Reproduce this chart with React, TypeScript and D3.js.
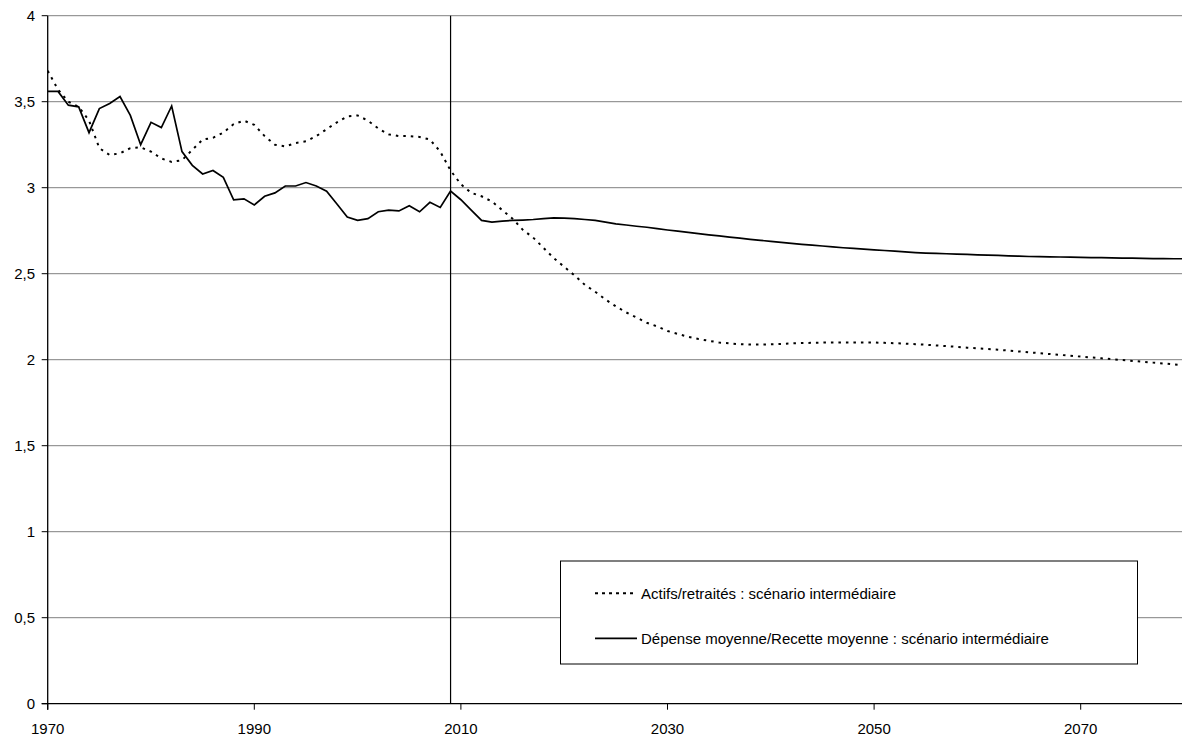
import React from "react";
import * as d3 from "d3";

const years: number[] = d3.range(1970, 2081);

const depenseRecette: number[] = [
  3.56, 3.56, 3.48, 3.47, 3.32, 3.46, 3.49, 3.53, 3.42, 3.25,
  3.38, 3.35, 3.475, 3.21, 3.13, 3.08, 3.10, 3.06, 2.93, 2.935,
  2.90, 2.95, 2.97, 3.01, 3.01, 3.03, 3.01, 2.98, 2.905, 2.83,
  2.81, 2.82, 2.86, 2.87, 2.865, 2.895, 2.86, 2.915, 2.885, 2.98,
  2.93, 2.87, 2.81, 2.80, 2.806, 2.81, 2.812, 2.815, 2.82, 2.825,
  2.823, 2.82, 2.815, 2.81, 2.80, 2.79, 2.783, 2.776, 2.77, 2.762,
  2.754, 2.747, 2.74, 2.733, 2.726, 2.72, 2.713, 2.707, 2.70, 2.694,
  2.688, 2.682, 2.676, 2.671, 2.666, 2.661, 2.656, 2.651, 2.647, 2.643,
  2.639, 2.635, 2.631, 2.627, 2.623, 2.62, 2.618, 2.616, 2.614, 2.612,
  2.61, 2.608, 2.606, 2.604, 2.602, 2.60, 2.599, 2.598, 2.597, 2.596,
  2.595, 2.594, 2.593, 2.592, 2.591, 2.59, 2.589, 2.588, 2.588, 2.587,
  2.587,
];

const actifsRetraites: number[] = [
  3.68, 3.57, 3.50, 3.47, 3.39, 3.23, 3.19, 3.20, 3.23, 3.235,
  3.21, 3.17, 3.15, 3.16, 3.22, 3.28, 3.29, 3.32, 3.37, 3.39,
  3.365, 3.30, 3.25, 3.24, 3.26, 3.27, 3.30, 3.34, 3.38, 3.415,
  3.42, 3.39, 3.345, 3.31, 3.30, 3.30, 3.295, 3.28, 3.21, 3.10,
  3.02, 2.97, 2.95, 2.92, 2.87, 2.82, 2.755, 2.71, 2.65, 2.59,
  2.54, 2.49, 2.435, 2.395, 2.35, 2.31, 2.275, 2.245, 2.215, 2.193,
  2.167, 2.15, 2.133, 2.12, 2.11, 2.10, 2.095, 2.09, 2.088, 2.088,
  2.09, 2.092, 2.095, 2.097, 2.098, 2.10, 2.10, 2.10, 2.10, 2.10,
  2.10, 2.098, 2.096, 2.093, 2.09, 2.087, 2.083, 2.079, 2.075, 2.07,
  2.066, 2.062, 2.058, 2.053, 2.048, 2.043, 2.038, 2.033, 2.028, 2.023,
  2.018, 2.013, 2.008, 2.003, 1.998, 1.993, 1.988, 1.983, 1.978, 1.973,
  1.968,
];

const xTickYears: number[] = [1970, 1990, 2010, 2030, 2050, 2070];
const yTickValues: number[] = [0, 0.5, 1, 1.5, 2, 2.5, 3, 3.5, 4];
const markerYear = 2009;

const legendLabels: string[] = [
  "Actifs/retraités : scénario intermédiaire",
  "Dépense moyenne/Recette moyenne : scénario intermédiaire",
];

const FONT = "'Liberation Sans', Arial, Helvetica, sans-serif";

export default function App() {
  const W = 1182;
  const H = 740;
  const x = d3.scaleLinear().domain([1970, 2080]).range([47.7, 1184]);
  const y = d3.scaleLinear().domain([0, 4]).range([703.7, 15.7]);

  const line = d3
    .line<number>()
    .x((_, i) => x(years[i]))
    .y((d) => y(d));

  const fmt = (v: number) => String(v).replace(".", ",");

  return (
    <div style={{ position: "fixed", left: 0, top: 0 }}>
      <svg width={W} height={H} style={{ display: "block", background: "#fff" }} fontFamily={FONT}>
        <defs>
          <clipPath id="plot">
            <rect x={x(1970)} y={0} width={W - x(1970)} height={H} />
          </clipPath>
        </defs>
        {yTickValues
          .filter((v) => v > 0)
          .map((v) => (
            <line key={v} x1={x(1970)} x2={W} y1={y(v)} y2={y(v)} stroke="#808080" strokeWidth={1} />
          ))}
        <g clipPath="url(#plot)">
          <path d={line(actifsRetraites) || ""} fill="none" stroke="#000" strokeWidth={2} strokeDasharray="2.5 5" />
          <path d={line(depenseRecette) || ""} fill="none" stroke="#000" strokeWidth={1.7} />
        </g>
        <line x1={x(markerYear)} x2={x(markerYear)} y1={y(4)} y2={y(0)} stroke="#000" strokeWidth={1.2} />
        <line x1={x(1970)} x2={x(1970)} y1={y(4)} y2={y(0) + 6} stroke="#000" strokeWidth={1.3} />
        <line x1={x(1970) - 6} x2={W} y1={y(0)} y2={y(0)} stroke="#000" strokeWidth={1.3} />
        {yTickValues.map((v) => (
          <g key={v}>
            <line x1={x(1970) - 6} x2={x(1970)} y1={y(v)} y2={y(v)} stroke="#000" strokeWidth={1} />
            <text x={35} y={y(v) + 5.4} textAnchor="end" fontSize={15} fill="#000">
              {fmt(v)}
            </text>
          </g>
        ))}
        {xTickYears.map((yr) => (
          <g key={yr}>
            <line x1={x(yr)} x2={x(yr)} y1={y(0)} y2={y(0) + 6} stroke="#000" strokeWidth={1} />
            <text x={x(yr)} y={734} textAnchor="middle" fontSize={15} fill="#000">
              {yr}
            </text>
          </g>
        ))}
        <rect x={560.5} y={561} width={577} height={103} fill="#fff" stroke="#000" strokeWidth={1} />
        <line x1={595} x2={637} y1={593.3} y2={593.3} stroke="#000" strokeWidth={2} strokeDasharray="3 4" />
        <text x={641} y={598.8} fontSize={15} fill="#000">
          {legendLabels[0]}
        </text>
        <line x1={595} x2={637} y1={638.3} y2={638.3} stroke="#000" strokeWidth={1.7} />
        <text x={641} y={643.8} fontSize={15} fill="#000">
          {legendLabels[1]}
        </text>
      </svg>
    </div>
  );
}
